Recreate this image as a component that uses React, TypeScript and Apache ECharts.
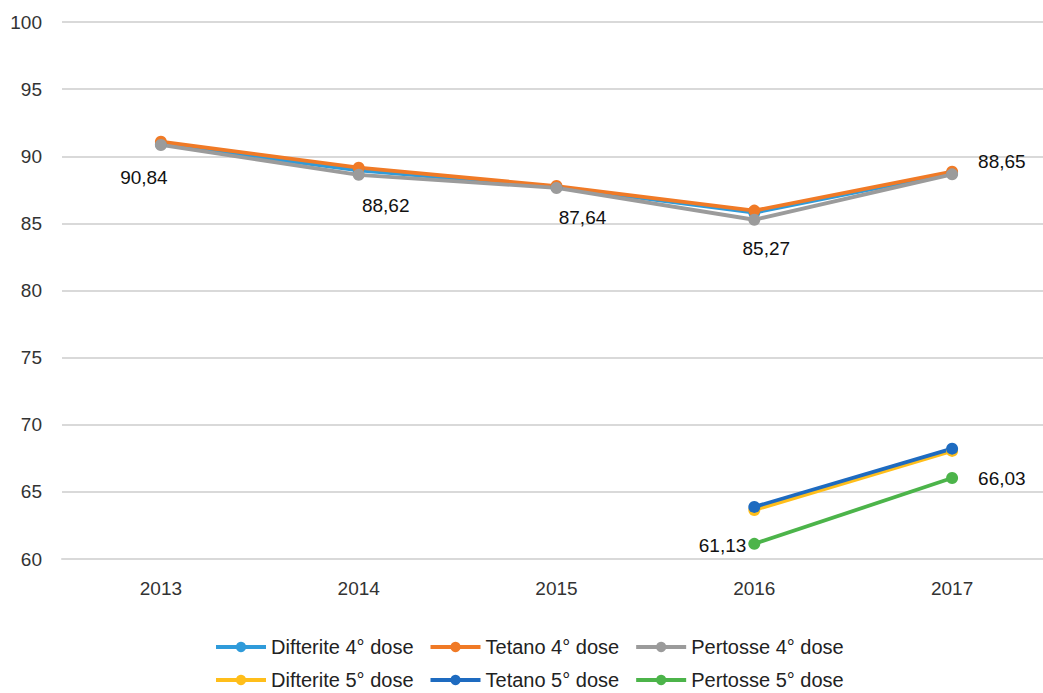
import React, { useEffect, useRef } from "react";
import * as echarts from "echarts";

const years = ["2013", "2014", "2015", "2016", "2017"];
const difterite4 = [90.9, 88.95, 87.7, 85.8, 88.75];
const tetano4 = [91.08, 89.15, 87.78, 85.95, 88.85];
const pertosse4 = [90.84, 88.62, 87.64, 85.27, 88.65];
const difterite5 = [null, null, null, 63.65, 68.05];
const tetano5 = [null, null, null, 63.88, 68.22];
const pertosse5 = [null, null, null, 61.13, 66.03];

const seriesNames = [
  "Difterite 4° dose",
  "Tetano 4° dose",
  "Pertosse 4° dose",
  "Difterite 5° dose",
  "Tetano 5° dose",
  "Pertosse 5° dose",
];
const colors = ["#2F9BDA", "#F07A26", "#9B9B9B", "#FFBE1A", "#1E6BC0", "#4CB44A"];

const FONT = "Liberation Sans, Arial, sans-serif";

// label placement styles for labelled series
const pertosse4Labels = [
  { position: "bottom", distance: 17, offset: [-17, 0] },
  { position: "bottom", distance: 15, offset: [27, 0] },
  { position: "bottom", distance: 14, offset: [26, 0] },
  { position: "bottom", distance: 13, offset: [12, 0] },
  { position: "right", distance: 20, offset: [0, -13] },
];
const pertosse5Labels = [null, null, null,
  { position: "left", distance: 2, offset: [0, 2] },
  { position: "right", distance: 20, offset: [0, 0] },
];

const fmt = (v: number) => v.toFixed(2).replace(".", ",");

export default function App() {
  const ref = useRef<HTMLDivElement>(null);
  useEffect(() => {
    if (!ref.current) return;
    const chart = echarts.init(ref.current, null, { renderer: "svg" });
    const labelBase = { show: true, color: "#111", fontSize: 19, fontFamily: FONT, formatter: (p: any) => fmt(p.value) };
    const mk = (name: string, data: (number | null)[], idx: number, labels?: any[]) => ({
      name,
      type: "line",
      data: data.map((v, i) =>
        labels && labels[i] && v !== null
          ? { value: v, label: { ...labelBase, ...labels[i] } }
          : v
      ),
      color: colors[idx],
      lineStyle: { width: 3.8, color: colors[idx] },
      itemStyle: { color: colors[idx] },
      symbol: "circle",
      symbolSize: 12,
      showSymbol: true,
      connectNulls: false,
    });
    const legendCommon = {
      left: 214,
      itemWidth: 50,
      itemHeight: 13,
      itemGap: 15,
      padding: 0,
      lineStyle: { width: 4 },
      textStyle: { fontSize: 20, color: "#222", fontFamily: FONT, lineHeight: 18 },
    };
    chart.setOption({
      animation: false,
      backgroundColor: "#fff",
      grid: { left: 62, right: 0, top: 22, bottom: 134, containLabel: false },
      legend: [
        { ...legendCommon, top: 637, data: seriesNames.slice(0, 3) },
        { ...legendCommon, top: 670, data: seriesNames.slice(3, 6) },
      ],
      xAxis: {
        type: "category",
        data: years,
        boundaryGap: true,
        axisLine: { show: true, lineStyle: { color: "#D9D9D9", width: 2 } },
        axisTick: { show: false },
        axisLabel: { color: "#333", fontSize: 19, fontFamily: FONT, margin: 20 },
      },
      yAxis: {
        type: "value",
        min: 60,
        max: 100,
        interval: 5,
        axisLine: { show: false },
        axisTick: { show: false },
        splitLine: { lineStyle: { color: "#D9D9D9", width: 2 } },
        axisLabel: { color: "#333", fontSize: 19, fontFamily: FONT, margin: 20 },
      },
      series: [
        mk(seriesNames[0], difterite4, 0),
        mk(seriesNames[1], tetano4, 1),
        mk(seriesNames[2], pertosse4, 2, pertosse4Labels),
        mk(seriesNames[3], difterite5, 3),
        mk(seriesNames[4], tetano5, 4),
        mk(seriesNames[5], pertosse5, 5, pertosse5Labels),
      ],
    });
    return () => chart.dispose();
  }, []);
  return (
    <div
      ref={ref}
      style={{ position: "fixed", left: 0, top: 0, width: 1051, height: 693, background: "#fff" }}
    />
  );
}
